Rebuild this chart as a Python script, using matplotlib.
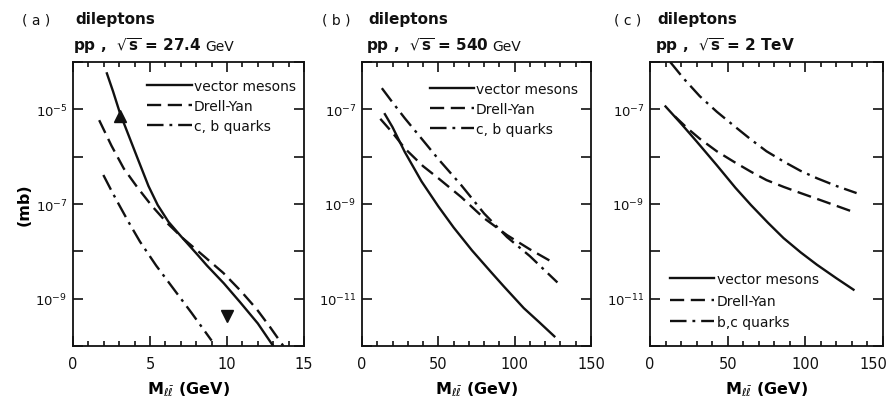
import matplotlib

matplotlib.use("Agg")
import matplotlib.pyplot as plt
from matplotlib.ticker import FixedLocator, MultipleLocator, NullFormatter

# ---- data (x in GeV, y in mb) ----
# (a) pp, sqrt(s) = 27.4 GeV
a_vm_x = [2.2, 2.6, 3.05, 4.2, 4.9, 5.5, 6.2, 7.0, 8.0, 8.7, 9.8, 10.84, 12.0, 13.0]
a_vm_y = [5.75e-5, 2.4e-5, 8.3e-6, 9.1e-7, 2.4e-7, 9.5e-8, 4.2e-8, 2.1e-8, 9.1e-9,
          5.0e-9, 2.1e-9, 8.5e-10, 3.0e-10, 1.0e-10]
a_dy_x = [1.7, 2.5, 3.3, 4.2, 5.1, 6.1, 7.16, 8.5, 9.76, 10.9, 11.93, 12.8, 13.66]
a_dy_y = [5.9e-6, 1.7e-6, 5.6e-7, 2.2e-7, 9.3e-8, 4.0e-8, 1.86e-8, 7.9e-9, 3.5e-9,
          1.45e-9, 6.0e-10, 2.5e-10, 1.0e-10]
a_q_x = [1.97, 2.5, 3.0, 3.6, 4.35, 5.4, 6.5, 7.7, 9.0]
a_q_y = [4.1e-7, 1.9e-7, 9.5e-8, 4.2e-8, 1.6e-8, 5.0e-9, 1.66e-9, 5.0e-10, 1.3e-10]
a_up = (3.05, 7.4e-6)     # filled up-triangle
a_down = (10.0, 4.4e-10)  # filled down-triangle

# (b) pp, sqrt(s) = 540 GeV
b_vm_x = [15, 20, 24, 28, 39, 50, 60, 72, 85, 93, 106, 116, 126]
b_vm_y = [7.9e-8, 4.2e-8, 2.3e-8, 1.26e-8, 3.0e-9, 8.9e-10, 3.2e-10, 1.05e-10,
          3.5e-11, 1.8e-11, 6.3e-12, 3.2e-12, 1.6e-12]
b_dy_x = [12, 20, 28, 40, 50, 65, 80, 95, 110, 126]
b_dy_y = [6.3e-8, 3.2e-8, 1.5e-8, 6.3e-9, 3.5e-9, 1.4e-9, 5.0e-10, 2.2e-10, 1.1e-10, 5.6e-11]
b_q_x = [13, 20, 28, 40, 50, 65, 80, 95, 110, 128]
b_q_y = [2.8e-7, 1.4e-7, 6.5e-8, 2.2e-8, 8.9e-9, 2.5e-9, 6.3e-10, 2.0e-10, 7.9e-11, 2.2e-11]

# (c) pp, sqrt(s) = 2 TeV
c_vm_x = [10, 20, 30, 43, 55, 65, 76, 86, 97, 107.5, 120, 131]
c_vm_y = [1.15e-7, 5.0e-8, 2.1e-8, 6.6e-9, 2.2e-9, 9.5e-10, 4.0e-10, 1.9e-10, 9.5e-11,
          5.2e-11, 2.7e-11, 1.55e-11]
c_dy_x = [16, 24, 32, 43, 54, 65, 75, 86, 97, 110, 121, 132]
c_dy_y = [7.1e-8, 4.0e-8, 2.4e-8, 1.3e-8, 7.8e-9, 4.8e-9, 3.2e-9, 2.3e-9, 1.7e-9,
          1.2e-9, 8.9e-10, 6.6e-10]
c_q_x = [13, 21.6, 32, 43, 54, 65, 75, 86, 97, 107.5, 120, 133]
c_q_y = [1.0e-6, 4.5e-7, 1.9e-7, 8.9e-8, 4.5e-8, 2.3e-8, 1.3e-8, 7.9e-9, 5.0e-9,
         3.5e-9, 2.4e-9, 1.7e-9]

labels_ab = ["vector mesons", "Drell-Yan", "c, b quarks"]
labels_c = ["vector mesons", "Drell-Yan", "b,c quarks"]

INK = "#111111"
LW = 1.7
DASH = (0, (6, 2.8))
DASHDOT = (0, (7, 2.5, 1.2, 2.5))

plt.rcParams.update({
    "font.family": "DejaVu Sans",
    "text.color": INK,
    "axes.edgecolor": INK,
    "xtick.color": INK,
    "ytick.color": INK,
    "mathtext.fontset": "dejavusans",
})

W, H = 893, 410
fig = plt.figure(figsize=(W / 100, H / 100), dpi=100)


def px_axes(left, right, top=63, bottom=347):
    return fig.add_axes([left / W, (H - bottom) / H, (right - left) / W, (bottom - top) / H])


ax_a = px_axes(73, 304)
ax_b = px_axes(362, 591)
ax_c = px_axes(650, 883)


def style(ax, xmax, xmaj, xmin, ylo, yhi, labelled):
    ax.set_yscale("log")
    ax.set_xlim(0, xmax)
    ax.set_ylim(10.0 ** ylo, 10.0 ** yhi)
    ax.xaxis.set_major_locator(MultipleLocator(xmaj))
    ax.xaxis.set_minor_locator(MultipleLocator(xmin))
    decades = [10.0 ** e for e in range(ylo, yhi + 1)]
    ax.yaxis.set_major_locator(FixedLocator(decades))
    ax.yaxis.set_minor_locator(FixedLocator([]))
    ax.yaxis.set_minor_formatter(NullFormatter())
    ax.set_yticks(decades)
    ax.set_yticklabels(["$10^{%d}$" % e if e in labelled else "" for e in range(ylo, yhi + 1)])
    ax.tick_params(which="both", direction="in", top=True, right=True, width=1.2)
    ax.tick_params(which="major", length=7)
    ax.tick_params(which="minor", length=3.5)
    ax.tick_params(axis="x", labelsize=10.5, pad=7)
    ax.tick_params(axis="y", labelsize=9.5, pad=4)
    for s in ax.spines.values():
        s.set_linewidth(1.3)
    ax.set_xlabel(r"M$_{\ell\bar{\ell}}$ (GeV)", fontsize=11.5, fontweight="bold", labelpad=6)


def curves(ax, vm, dy, q):
    ax.plot(*vm, color=INK, lw=LW, linestyle="-")
    ax.plot(*dy, color=INK, lw=LW, linestyle=DASH)
    ax.plot(*q, color=INK, lw=LW, linestyle=DASHDOT)


style(ax_a, 15, 5, 1, -10, -4, (-5, -7, -9))
style(ax_b, 150, 50, 10, -12, -6, (-7, -9, -11))
style(ax_c, 150, 50, 10, -12, -6, (-7, -9, -11))

# right panel: the "150" label is pulled in a little so it stays inside the figure
ax_c.set_xticks([0, 50, 100, 150], ["0", "50", "100", ""])
ax_c.annotate("150", xy=(150, 0), xycoords=ax_c.get_xaxis_transform(), xytext=(-7, -7),
              textcoords="offset points", ha="center", va="top", fontsize=10.5)

curves(ax_a, (a_vm_x, a_vm_y), (a_dy_x, a_dy_y), (a_q_x, a_q_y))
curves(ax_b, (b_vm_x, b_vm_y), (b_dy_x, b_dy_y), (b_q_x, b_q_y))
curves(ax_c, (c_vm_x, c_vm_y), (c_dy_x, c_dy_y), (c_q_x, c_q_y))

ax_a.plot(*a_up, marker="^", color=INK, markersize=9, linestyle="none")
ax_a.plot(*a_down, marker="v", color=INK, markersize=9, linestyle="none")

ax_a.set_ylabel("(mb)", fontsize=11.5, fontweight="bold", labelpad=3)


def legend(ax, labels, **kw):
    handles = [plt.Line2D([], [], color=INK, lw=LW, linestyle=ls) for ls in ("-", DASH, DASHDOT)]
    ax.legend(handles, labels, frameon=False, fontsize=10, handlelength=3.2,
              handletextpad=0.15, borderaxespad=0.2, **kw)


legend(ax_a, labels_ab, loc="upper right", bbox_to_anchor=(1.0, 0.97), labelspacing=0.45)
legend(ax_b, labels_ab, loc="upper right", bbox_to_anchor=(0.98, 0.96), labelspacing=0.45)
legend(ax_c, labels_c, loc="lower left", bbox_to_anchor=(0.05, 0.03), labelspacing=0.55)

# ---- panel headings ----
heads = [("( a )", 22, 73, "27.4", True), ("( b )", 322, 366, "540", True),
         ("( c )", 614, 655, "2 TeV", False)]
for tag, xtag, xhead, energy, gev in heads:
    fig.text(xtag / W, 1 - 24 / H, tag, fontsize=10, ha="left", va="baseline")
    fig.text((xhead + 2) / W, 1 - 24 / H, "dileptons", fontsize=11, fontweight="bold",
             ha="left", va="baseline")
    t = fig.text(xhead / W, 1 - 51 / H, r"pp ,  $\sqrt{\mathbf{s}}$ = " + energy,
                 fontsize=11, fontweight="bold", ha="left", va="baseline")
    if gev:
        fig.canvas.draw()
        bb = t.get_window_extent()
        fig.text(bb.x1 / W + 4 / W, 1 - 51 / H, "GeV", fontsize=10, ha="left", va="baseline")

fig.savefig("out.png", dpi=100, facecolor="white")
